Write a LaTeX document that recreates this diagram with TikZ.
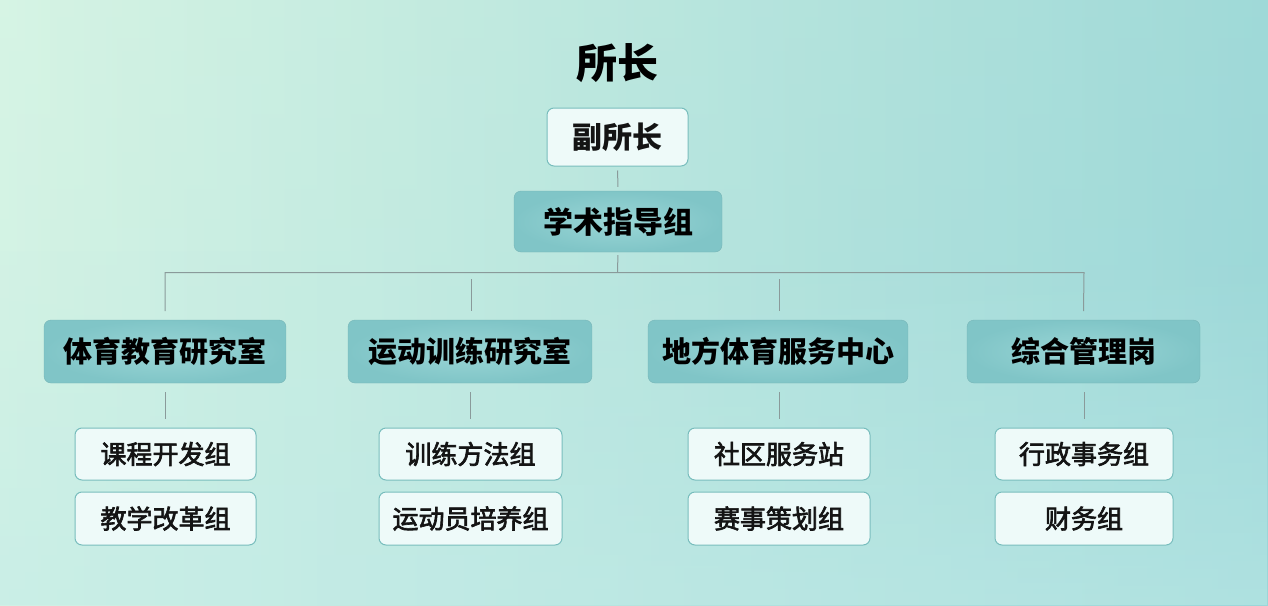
\documentclass[tikz,border=0pt]{standalone}
\usepackage{fontspec}
\setmainfont{Noto Sans CJK SC}
\newfontfamily\subfont[FakeBold=2.5]{Noto Sans CJK SC}
\usetikzlibrary{positioning,fadings}
\definecolor{bgA}{HTML}{D6F4E4}
\definecolor{bgB}{HTML}{88CED3}
\definecolor{bgC}{HTML}{C4ECE8}
\definecolor{deptfill}{HTML}{80C5C7}
\definecolor{deptmid}{HTML}{9AD6D6}
\definecolor{subfill}{HTML}{EEFAF9}
\definecolor{subedge}{HTML}{78BDBD}
\definecolor{linegray}{HTML}{8A9A9A}
\tikzset{
  deptbox/.style={rounded corners=7pt, inner sep=0pt, align=center,
    inner color=deptmid, outer color=deptfill, draw=deptfill!92!black, line width=0.4pt,
    font=\bfseries\fontsize{29}{32}\selectfont, text=black},
  subbox/.style={rounded corners=7pt, inner sep=0pt, align=center,
    fill=subfill, draw=subedge, line width=1pt,
    font=\subfont\fontsize{26}{30}\selectfont, text=black!92},
  conn/.style={draw=linegray, line width=1pt}
}
\begin{document}
\begin{tikzpicture}[x=1pt,y=-1pt]
\useasboundingbox (0,0) rectangle (1268,605);
% background
\shade[left color=bgA, right color=bgB] (0,0) rectangle (1268,605);
\shade[top color=bgA, bottom color=bgC, opacity=0.3] (0,0) rectangle (1268,605);
\fill[bgC, opacity=0.5, path fading=north] (0,250) rectangle (1268,605);

% title
\node[font=\bfseries\fontsize{41}{44}\selectfont] (head) at (617,63) {所长};

% vice
\node[subbox, minimum width=141pt, minimum height=58pt, font=\bfseries\fontsize{30}{34}\selectfont] (vp) at (617.5,137) {副所长};
\node[deptbox, minimum width=208pt, minimum height=61pt, font=\bfseries\fontsize{30}{34}\selectfont] (acad) at (618,221.5) {学术指导组};

% departments
\node[deptbox, minimum width=242pt, minimum height=63pt] (d1) at (165,351.5) {体育教育研究室};
\node[deptbox, minimum width=244pt, minimum height=63pt] (d2) at (470,351.5) {运动训练研究室};
\node[deptbox, minimum width=260pt, minimum height=63pt] (d3) at (778,351.5) {地方体育服务中心};
\node[deptbox, minimum width=233pt, minimum height=63pt] (d4) at (1083.5,351.5) {综合管理岗};

% sub groups
\node[subbox, minimum width=181pt, minimum height=52pt] (s11) at (165.5,454) {课程开发组};
\node[subbox, minimum width=181pt, minimum height=53pt] (s12) at (165.5,518.5) {教学改革组};
\node[subbox, minimum width=183pt, minimum height=52pt] (s21) at (470.5,454) {训练方法组};
\node[subbox, minimum width=183pt, minimum height=53pt] (s22) at (470.5,518.5) {运动员培养组};
\node[subbox, minimum width=182pt, minimum height=52pt] (s31) at (779,454) {社区服务站};
\node[subbox, minimum width=182pt, minimum height=53pt] (s32) at (779,518.5) {赛事策划组};
\node[subbox, minimum width=178pt, minimum height=52pt] (s41) at (1084,454) {行政事务组};
\node[subbox, minimum width=178pt, minimum height=53pt] (s42) at (1084,518.5) {财务组};

% bus coordinates
\coordinate (busC) at (617.5,272.5);
\coordinate (busL) at (165,272.5);
\coordinate (busR) at (1084,272.5);
\coordinate (drop2) at (471,279);
\coordinate (drop3) at (779,279);

% connectors
\draw[conn, shorten <=4pt, shorten >=4pt] (vp.south) -- (acad.north);
\draw[conn, shorten <=3pt] (acad.south) -- (busC);
\draw[conn] (d1.north |- 0,311) -- (busL) -- (busR) -- (d4.north |- 0,311);
\draw[conn, shorten >=9pt] (drop2) -- (drop2 |- d2.north);
\draw[conn, shorten >=9pt] (drop3) -- (drop3 |- d3.north);

\foreach \d/\s in {d1/s11, d2/s21, d3/s31, d4/s41}{
  \draw[conn, shorten <=9pt, shorten >=9pt] (\s.north |- \d.south) -- (\s.north);
}
\end{tikzpicture}
\end{document}
